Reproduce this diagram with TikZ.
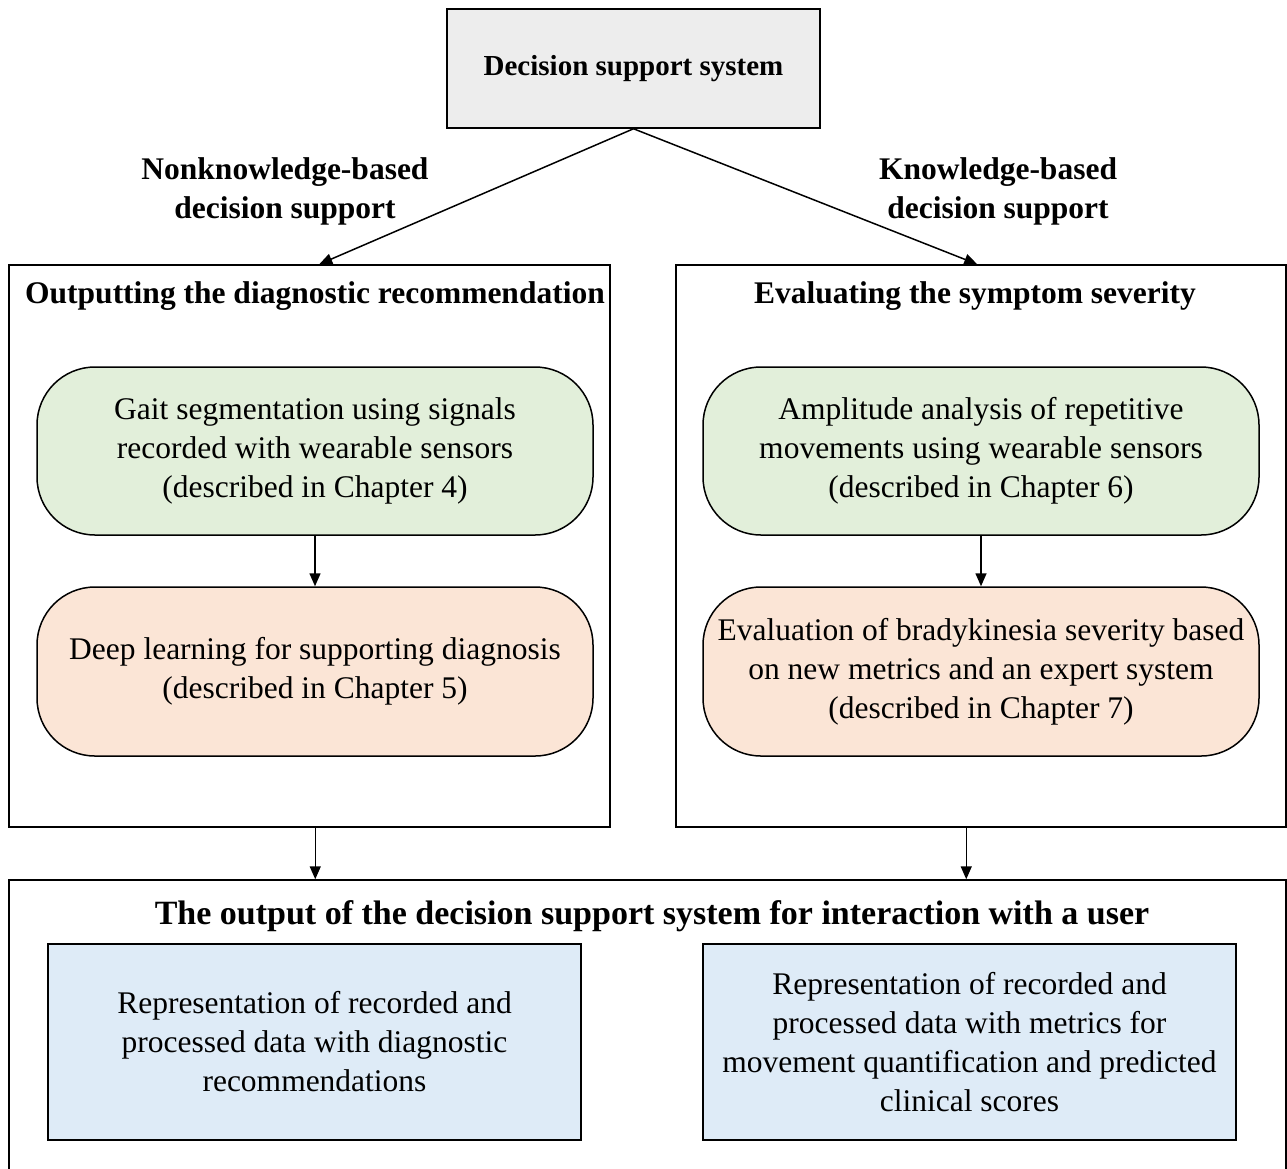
\documentclass[tikz,border=0pt]{standalone}
\usepackage{fontspec}
\setmainfont{Liberation Serif}
\usetikzlibrary{arrows.meta}
\definecolor{dssgray}{HTML}{EDEDED}
\definecolor{stepgreen}{HTML}{E2EFDA}
\definecolor{steporange}{HTML}{FBE5D6}
\definecolor{outblue}{HTML}{DEEBF7}
\begin{document}
\begin{tikzpicture}[x=1pt,y=-1pt,
  txt/.style={font=\fontsize{31.5}{39}\selectfont, align=center, inner sep=0pt},
  bold/.style={txt, font=\fontsize{31.5}{39}\selectfont\bfseries},
  frame/.style={draw, line width=1.5pt, inner sep=0pt},
  stepbox/.style={frame, rounded corners=58pt, txt},
  outbox/.style={frame, fill=outblue, txt},
  arr/.style={-{Triangle[length=13pt,width=11pt]}, line width=1.5pt}
]
\clip (0,0) rectangle (1287,1168);
\fill[white] (0,0) rectangle (1287,1168);

% top-level system
\node[frame, fill=dssgray, minimum width=373pt, minimum height=119pt, bold,
  font=\fontsize{29}{35}\selectfont\bfseries] (dss) at (633.5,68.5) {\raisebox{-3pt}{Decision support system}};

% the two branches
\node[bold] (nkb) at (285,191) {Nonknowledge-based\\decision support};
\node[bold] (kb) at (998,191) {Knowledge-based\\decision support};

\node[frame, minimum width=601pt, minimum height=562pt] (lc) at (309.5,546) {};
\node[frame, minimum width=610pt, minimum height=562pt] (rc) at (981,546) {};
\node[bold] (lt) at (315,296) {Outputting the diagnostic recommendation};
\node[bold] (rt) at (975,296) {Evaluating the symptom severity};

% steps of the left branch
\node[stepbox, fill=stepgreen, minimum width=556pt, minimum height=168pt] (g1) at (315,451)
  {Gait segmentation using signals\\recorded with wearable sensors\\(described in Chapter 4)};
\node[stepbox, fill=steporange, minimum width=556pt, minimum height=169pt] (o1) at (315,671.5)
  {Deep learning for supporting diagnosis\\(described in Chapter 5)};

% steps of the right branch
\node[stepbox, fill=stepgreen, minimum width=556pt, minimum height=168pt] (g2) at (981,451)
  {Amplitude analysis of repetitive\\movements using wearable sensors\\(described in Chapter 6)};
\node[stepbox, fill=steporange, minimum width=556pt, minimum height=169pt] (o2) at (981,671.5)
  {Evaluation of bradykinesia severity based\\on new metrics and an expert system\\(described in Chapter 7)};

% output block
\node[frame, minimum width=1277pt, minimum height=400pt] (bc) at (647.5,1080) {};
\node[bold, font=\fontsize{34}{40}\selectfont\bfseries] (bt) at (652,916)
  {The output of the decision support system for interaction with a user};
\node[outbox, minimum width=533pt, minimum height=196pt] (b1) at (314.5,1042)
  {Representation of recorded and\\processed data with diagnostic\\recommendations};
\node[outbox, minimum width=533pt, minimum height=196pt] (b2) at (969.5,1042)
  {Representation of recorded and\\processed data with metrics for\\movement quantification and predicted\\clinical scores};

% connectors
\draw[arr] (dss.south) -- ([xshift=311pt]lc.north west);
\draw[arr] (dss.south) -- ([xshift=302pt]rc.north west);
\draw[arr] (g1.south) -- (o1.north);
\draw[arr] (g2.south) -- (o2.north);
\coordinate (la) at ([xshift=307pt]lc.south west);
\coordinate (ra) at ([xshift=291pt]rc.south west);
\draw[arr] (la) -- (la |- bc.north);
\draw[arr] (ra) -- (ra |- bc.north);
\end{tikzpicture}
\end{document}
